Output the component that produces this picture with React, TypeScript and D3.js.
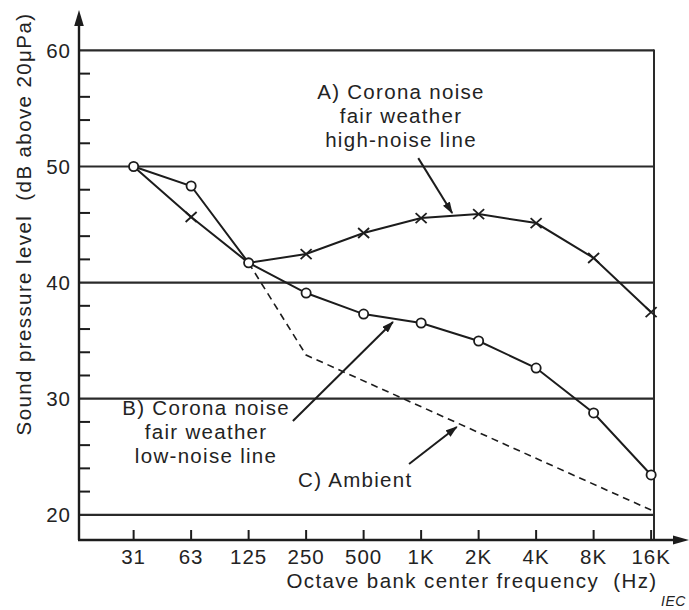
import React from "react";
import * as d3 from "d3";

// ---- data ----
const freqLabels = ["31", "63", "125", "250", "500", "1K", "2K", "4K", "8K", "16K"];
const highNoise = [50, 45.65, 41.7, 42.46, 44.27, 45.56, 45.9, 45.13, 42.12, 37.45]; // A) x markers
const lowNoise = [50, 48.32, 41.7, 39.1, 37.29, 36.52, 34.97, 32.64, 28.77, 23.43]; // B) circles
const ambientIdx = [2, 3, 9];
const ambientVals = [41.7, 33.76, 20.41]; // C) dashed
const yMajor = [20, 30, 40, 50, 60];
const yMinor = d3.range(22, 60, 2).filter((v) => v % 10 !== 0);

const annA = ["A) Corona noise", "fair weather", "high-noise line"];
const annB = ["B) Corona noise", "fair weather", "low-noise line"];
const annC = "C) Ambient";

const FONT = "'Liberation Sans', Arial, Helvetica, sans-serif";
const INK = "#1c1c1c";
const TXT = "#232323";

export default function App() {
  const W = 689, H = 610;
  const x = d3.scaleLinear().domain([-0.95, 9.05]).range([79, 654]);
  const y = d3.scaleLinear().domain([17.83, 60]).range([540, 50.4]);
  const x0 = x.range()[0], x1 = x.range()[1];
  const yB = y.range()[0], yT = y(60);

  const lineA = d3.line<number>().x((_, i) => x(i)).y((d) => y(d));
  const lineB = d3.line<number>().x((_, i) => x(i)).y((d) => y(d));
  const lineC = d3.line<number>().x((_, i) => x(ambientIdx[i])).y((d) => y(d));

  const textStyle = { fontFamily: FONT, fontSize: 20.5, fill: TXT, letterSpacing: "1.3px" } as const;

  const arrow = (fx: number, fy: number, tx: number, ty: number) => (
    <line x1={x(fx)} y1={y(fy)} x2={x(tx)} y2={y(ty)} stroke={INK} strokeWidth={2} markerEnd="url(#ah)" />
  );

  return (
    <svg width={W} height={H} style={{ position: "absolute", left: 0, top: 0, background: "#fff" }}>
      <defs>
        <marker id="ah" viewBox="0 0 12 8" refX="11" refY="4" markerWidth="12" markerHeight="8" markerUnits="userSpaceOnUse" orient="auto">
          <path d="M0,0 L12,4 L0,8 Z" fill={INK} />
        </marker>
      </defs>

      {/* horizontal gridlines */}
      {yMajor.map((v) => (
        <line key={v} x1={x0} x2={x1} y1={y(v)} y2={y(v)} stroke="#2a2a2a" strokeWidth={2.2} />
      ))}
      {/* minor ticks */}
      {yMinor.map((v) => (
        <line key={v} x1={x0} x2={x0 + 11} y1={y(v)} y2={y(v)} stroke={INK} strokeWidth={2} />
      ))}
      {/* right border */}
      <line x1={x1} x2={x1} y1={yT - 1} y2={yB} stroke="#2a2a2a" strokeWidth={2} />
      {/* y axis with arrow */}
      <line x1={x0} x2={x0} y1={yB} y2={22} stroke={INK} strokeWidth={2.4} />
      <path d={`M${x0},10 L${x0 - 4.8},26 L${x0 + 4.8},26 Z`} fill={INK} />
      {/* x axis with arrow */}
      <line x1={x0 - 1} x2={677} y1={yB} y2={yB} stroke={INK} strokeWidth={2.4} />
      <path d={`M689,${yB} L673,${yB - 4.5} L673,${yB + 4.5} Z`} fill={INK} />
      {/* x ticks */}
      {freqLabels.map((l, i) => (
        <g key={l}>
          <line x1={x(i)} x2={x(i)} y1={yB} y2={yB - 10} stroke={INK} strokeWidth={2} />
          <text x={x(i)} y={564} textAnchor="middle" {...textStyle} letterSpacing="1px">{l}</text>
        </g>
      ))}
      {/* y tick labels */}
      {yMajor.map((v) => (
        <text key={v} x={71} y={y(v) + 7.4} textAnchor="end" {...textStyle} letterSpacing="1px">{v}</text>
      ))}

      {/* axis titles */}
      <text x={472} y={588} textAnchor="middle" {...textStyle} letterSpacing="1.4px">
        Octave bank center frequency{"\u00a0\u00a0"}(Hz)
      </text>
      <text transform="translate(31,224) rotate(-90)" textAnchor="middle" {...textStyle} letterSpacing="1.4px">
        Sound pressure level{"\u00a0\u00a0"}(dB above 20μPa)
      </text>
      <text x={661} y={606} {...textStyle} fontSize={14} letterSpacing="0.5px" fontStyle="italic">IEC</text>

      {/* series */}
      <path d={lineC(ambientVals) || ""} fill="none" stroke={INK} strokeWidth={1.6} strokeDasharray="7,5" />
      <path d={lineA(highNoise) || ""} fill="none" stroke={INK} strokeWidth={2} />
      <path d={lineB(lowNoise) || ""} fill="none" stroke={INK} strokeWidth={2} />
      {highNoise.map((v, i) =>
        i === 0 || i === 2 ? null : (
          <g key={i} stroke={INK} strokeWidth={1.8}>
            <line x1={x(i) - 5.5} y1={y(v) - 5} x2={x(i) + 5.5} y2={y(v) + 5} />
            <line x1={x(i) - 5.5} y1={y(v) + 5} x2={x(i) + 5.5} y2={y(v) - 5} />
          </g>
        )
      )}
      {lowNoise.map((v, i) => (
        <circle key={i} cx={x(i)} cy={y(v)} r={4.6} fill="#fff" stroke={INK} strokeWidth={1.8} />
      ))}

      {/* annotations */}
      {annA.map((t, i) => (
        <text key={t} x={x(4.65)} y={y(55.8 - i * 2.08)} textAnchor="middle" {...textStyle}>{t}</text>
      ))}
      {arrow(4.95, 50.72, 5.54, 45.99)}
      {annB.map((t, i) => (
        <text key={t} x={x(1.26)} y={y(28.6 - i * 2.07)} textAnchor="middle" {...textStyle}>{t}</text>
      ))}
      {arrow(2.77, 28.08, 4.51, 36.61)}
      <text x={x(2.86)} y={y(22.39)} {...textStyle}>{annC}</text>
      {arrow(4.79, 24.38, 5.62, 27.57)}
    </svg>
  );
}
